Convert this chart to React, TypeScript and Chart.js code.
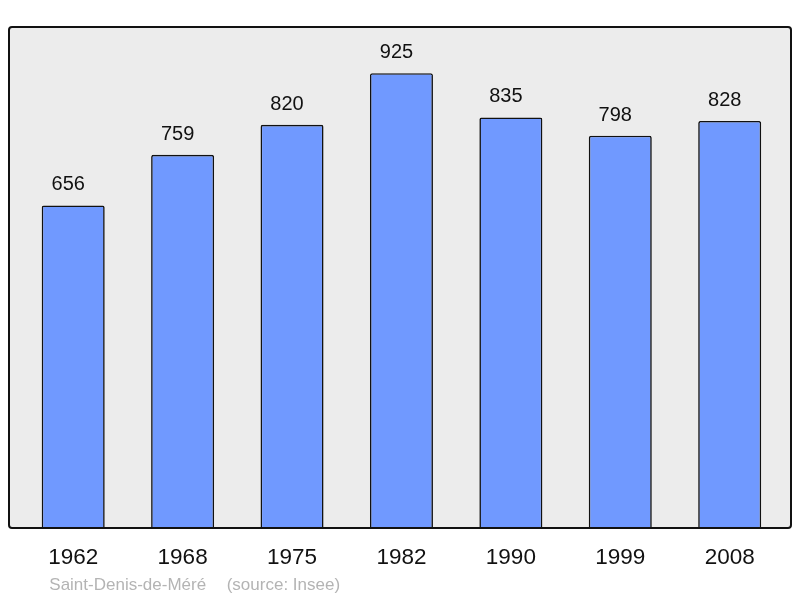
import React, { useEffect, useRef } from "react";
import { Chart, registerables } from "chart.js";

Chart.register(...registerables);

const years = ["1962", "1968", "1975", "1982", "1990", "1999", "2008"];
const population = [656, 759, 820, 925, 835, 798, 828];
const placeName = "Saint-Denis-de-Méré";
const sourceText = "(source: Insee)";

const FONT = "'Liberation Sans', Arial, sans-serif";
const BAR_FILL = "#7099ff";
const PLOT_BG = "#ececec";

const framePlugin = {
  id: "frame",
  beforeDatasetsDraw(chart: any) {
    const { ctx, chartArea } = chart;
    const l = chartArea.left - 9.5, r = chartArea.right + 6.6;
    const t = chartArea.top, b = chartArea.bottom;
    ctx.save();
    ctx.beginPath();
    ctx.roundRect(l, t, r - l, b - t, 3);
    ctx.fillStyle = PLOT_BG;
    ctx.fill();
    ctx.restore();
  },
  afterDatasetsDraw(chart: any) {
    const { ctx, chartArea } = chart;
    const l = chartArea.left - 9.5, r = chartArea.right + 6.6;
    const t = chartArea.top, b = chartArea.bottom;
    ctx.save();
    ctx.beginPath();
    ctx.roundRect(l, t, r - l, b - t, 3);
    ctx.lineWidth = 2;
    ctx.strokeStyle = "#111";
    ctx.stroke();

    // value labels
    const meta = chart.getDatasetMeta(0);
    ctx.fillStyle = "#111";
    ctx.font = `20px ${FONT}`;
    ctx.textAlign = "center";
    ctx.textBaseline = "alphabetic";
    meta.data.forEach((el: any, i: number) => {
      ctx.fillText(String(population[i]), el.x - 5, el.y - 15);
    });

    // footer
    ctx.fillStyle = "#b4b4b4";
    ctx.font = `17px ${FONT}`;
    ctx.textAlign = "left";
    ctx.fillText(placeName, chartArea.left + 30.8, 590);
    ctx.fillText(sourceText, chartArea.left + 208.2, 590);
    ctx.restore();
  },
};

export default function App() {
  const ref = useRef<HTMLCanvasElement | null>(null);
  useEffect(() => {
    if (!ref.current) return;
    const chart = new Chart(ref.current, {
      type: "bar",
      data: {
        labels: years,
        datasets: [
          {
            data: population,
            backgroundColor: BAR_FILL,
            borderColor: "#111",
            borderWidth: 1.6,
            borderRadius: { topLeft: 2, topRight: 2, bottomLeft: 0, bottomRight: 0 },
            borderSkipped: "bottom",
            barPercentage: 0.576,
            categoryPercentage: 1,
          },
        ],
      },
      options: {
        animation: false,
        responsive: false,
        layout: { padding: { left: 18.5, right: 15.6, top: 27, bottom: 10 } },
        plugins: { legend: { display: false }, tooltip: { enabled: false }, title: { display: false } },
        scales: {
          x: {
            grid: { display: false, drawTicks: false },
            border: { display: false },
            ticks: { color: "#111", font: { family: FONT, size: 22.5 }, padding: 16.5 },
          },
          y: { display: false, min: 0, max: 1019 },
        },
      },
      plugins: [framePlugin],
    });
    return () => chart.destroy();
  }, []);
  return (
    <div style={{ position: "absolute", left: 0, top: 0, width: 800, height: 598 }}>
      <canvas ref={ref} width={800} height={598} />
    </div>
  );
}
